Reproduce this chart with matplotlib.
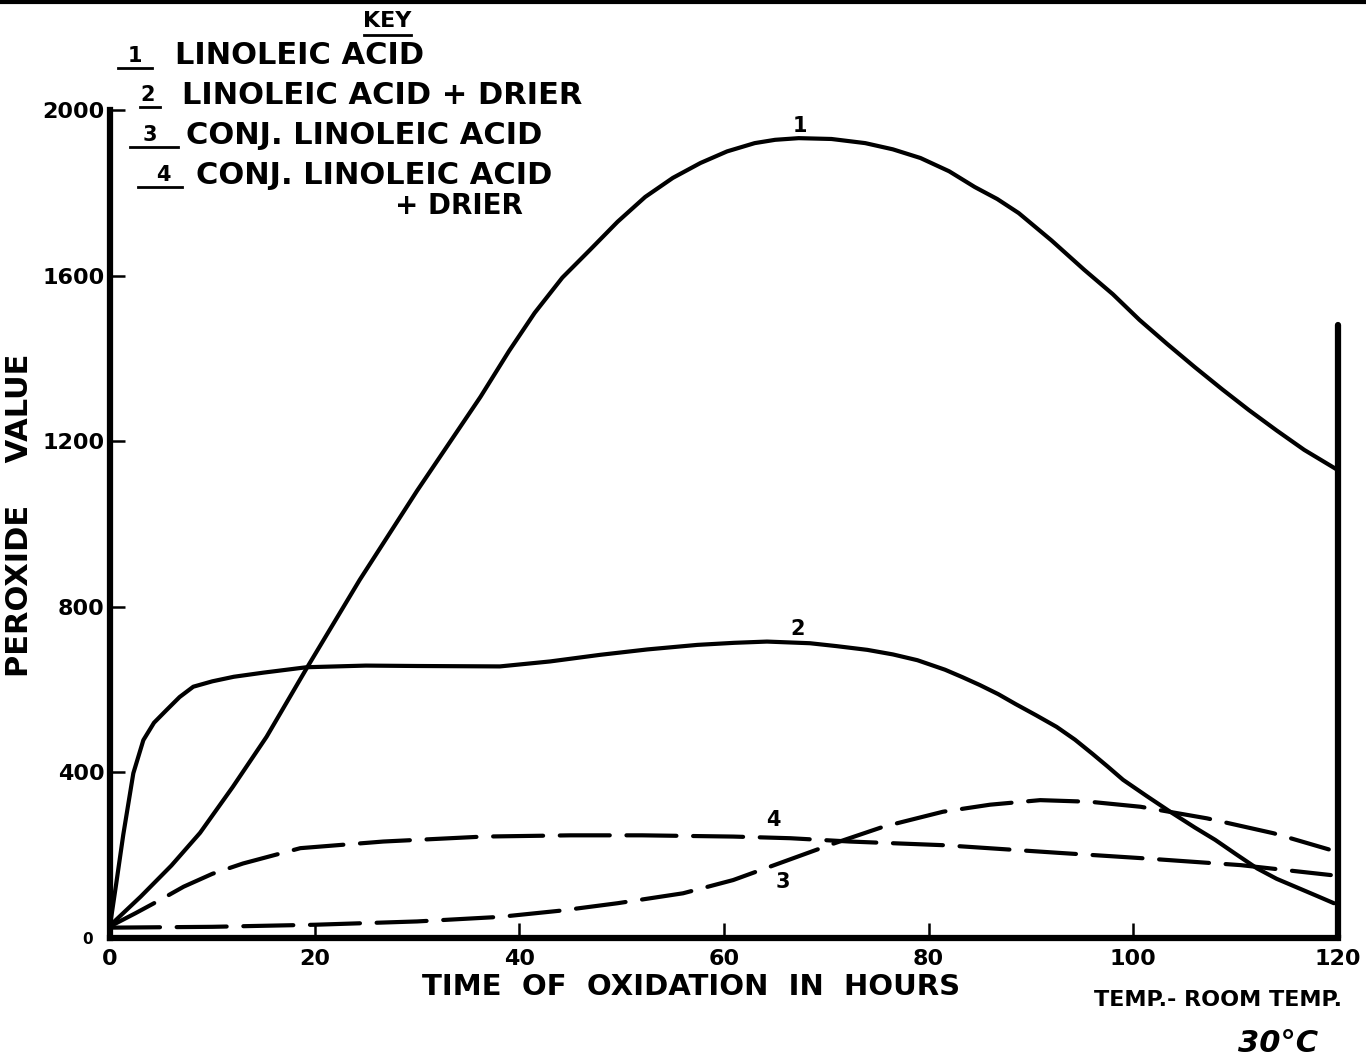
import matplotlib
matplotlib.use("Agg")
import matplotlib.pyplot as plt
from matplotlib.lines import Line2D

# ---------------- data ----------------
hours_1 = [0, 3, 6, 8.8, 12, 15.3, 19.3, 24.4, 30, 36.2, 39, 41.5, 44.2, 46.9,
           49.6, 52.3, 55, 57.7, 60.3, 63, 65, 67.3, 70.5, 73.8, 76.5, 79.2,
           82, 84.5, 86.7, 88.8, 92, 95.2, 98, 100.6, 103.3, 106, 108.7, 111.3,
           114, 116.7, 120]
pv_1 = [30, 100, 175, 254, 365, 486, 655, 865, 1080, 1307, 1418, 1510, 1595, 1662,
        1730, 1790, 1836, 1872, 1900, 1920, 1928, 1932, 1930, 1920, 1905, 1884,
        1852, 1814, 1785, 1751, 1685, 1614, 1555, 1493, 1435, 1379, 1325, 1275,
        1226, 1179, 1130]

hours_2 = [0, 0.6, 1.3, 2.28, 3.26, 4.3, 5.54, 6.8, 8.14, 10, 12.1, 15, 19.2, 25,
           30, 38.1, 43, 47.9, 52.5, 57.4, 61, 64.2, 68.4, 71, 74, 76.5, 78.9,
           81.6, 83.3, 85, 86.8, 88.5, 90.5, 92.5, 94.3, 96, 97.5, 99, 101.3,
           103.6, 106, 108, 110, 112.1, 114, 116, 118, 119.6]
pv_2 = [30, 130, 250, 398, 478, 520, 551, 582, 607, 620, 631, 641, 654, 658,
        657, 656, 668, 684, 697, 708, 713, 716, 712, 705, 696, 685, 671,
        648, 630, 611, 589, 565, 538, 510, 479, 445, 414, 382, 343,
        305, 267, 237, 203, 168, 143, 122, 101, 84]

hours_3 = [0, 10, 20, 30, 38.1, 44, 49.6, 56, 60.9, 65.8, 70.7, 75.6, 81.4, 86,
           90.9, 95.8, 100.7, 107.2, 113.7, 119.1]
pv_3 = [25, 27, 32, 40, 51, 66, 84, 108, 140, 184, 228, 269, 305, 322,
        333, 329, 317, 289, 253, 214]

hours_4 = [0, 2.5, 4.9, 7.2, 10, 13, 18.6, 26.7, 36.5, 45, 52, 60.9, 66.5, 72.3,
           81.6, 92.5, 100.7, 110.5, 119.3]
pv_4 = [28, 60, 92, 124, 155, 180, 217, 233, 245, 248, 248, 245, 241, 233,
        224, 206, 193, 176, 152]

x_ticks = [0, 20, 40, 60, 80, 100, 120]
x_tick_labels = ["0", "20", "40", "60", "80", "100", "120"]
y_ticks = [400, 800, 1200, 1600, 2000]
y_tick_labels = ["400", "800", "1200", "1600", "2000"]
right_bar_top = 1480

key_title = "KEY"
key_numbers = ["1", "2", "3", "4"]
key_texts = ["LINOLEIC ACID", "LINOLEIC ACID + DRIER", "CONJ. LINOLEIC ACID",
             "CONJ. LINOLEIC ACID"]
key_extra = "+ DRIER"
curve_labels = ["1", "2", "3", "4"]
curve_label_pos = [(67.4, 1938), (67.2, 722), (65.7, 135), (64.8, 262)]

xlabel = "TIME  OF  OXIDATION  IN  HOURS"
ylabel = "PEROXIDE    VALUE"
temp_text = "TEMP.- ROOM TEMP."
temp_value = "30°C"

# ---------------- figure ----------------
W, H = 1366, 1055
fig = plt.figure(figsize=(W / 100, H / 100), dpi=100)
fig.patch.set_facecolor("white")
FONT = "DejaVu Sans"


def fx(px):
    return px / W


def fy(py):
    return 1 - py / H


ax = fig.add_axes([fx(110), fy(938), fx(1338) - fx(110), fy(110) - fy(938)])
ax.set_xlim(0, 120)
ax.set_ylim(0, 2000)

lw = 3.0
ax.plot(hours_1, pv_1, color="black", lw=lw, solid_joinstyle="round",
        solid_capstyle="round", clip_on=False)
ax.plot(hours_2, pv_2, color="black", lw=lw, solid_joinstyle="round",
        solid_capstyle="round", clip_on=False)
ax.plot(hours_3, pv_3, color="black", lw=lw, dashes=(12, 4),
        dash_capstyle="round", clip_on=False)
ax.plot(hours_4, pv_4, color="black", lw=lw, dashes=(12, 4),
        dash_capstyle="round", clip_on=False)

# right-hand bar at 120 h
ax.plot([120, 120], [0, right_bar_top], color="black", lw=4.5,
        solid_capstyle="round", clip_on=False)

for s in ["top", "right"]:
    ax.spines[s].set_visible(False)
for s in ["left", "bottom"]:
    ax.spines[s].set_linewidth(4.5)
    ax.spines[s].set_capstyle("projecting")

ax.set_xticks(x_ticks)
ax.set_xticklabels(x_tick_labels)
ax.set_yticks(y_ticks)
ax.set_yticklabels(y_tick_labels)
ax.tick_params(axis="both", direction="in", length=11, width=1.8, color="black")
ax.tick_params(axis="x", pad=8, labelsize=16)
ax.tick_params(axis="y", pad=4, labelsize=16)
for t in ax.get_xticklabels() + ax.get_yticklabels():
    t.set_fontweight("bold")
    t.set_family(FONT)

# small zero on y axis
fig.text(fx(88), fy(940), "0", fontsize=11, fontweight="bold", family=FONT,
         ha="center", va="center")

# curve labels
for lab, (xx, yy) in zip(curve_labels, curve_label_pos):
    ax.text(xx, yy, lab, fontsize=15, fontweight="bold", family=FONT,
            ha="center", va="bottom" if lab in ("1", "2", "4") else "center")

# axis labels
fig.text(fx(691), fy(987), xlabel, fontsize=21, fontweight="bold", family=FONT,
         ha="center", va="center")
fig.text(fx(20), fy(515), ylabel, fontsize=22, fontweight="bold", family=FONT,
         ha="center", va="center", rotation=90)

# temperature note
fig.text(fx(1218), fy(1000), temp_text, fontsize=16, fontweight="bold",
         family=FONT, ha="center", va="center")
fig.text(fx(1278), fy(1043), temp_value, fontsize=22, fontweight="bold",
         style="italic", family=FONT, ha="center", va="center")

# key
fig.text(fx(387), fy(21), key_title, fontsize=16, fontweight="bold", family=FONT,
         ha="center", va="center")
fig.add_artist(Line2D([fx(364), fx(411)], [fy(35), fy(35)], color="black", lw=2))

row_y = [56, 95, 135, 175]
num_x = [135, 148, 150, 163]
num_ul = [(118, 152), (140, 160), (130, 178), (138, 182)]
text_x = [175, 182, 186, 196]
for i in range(4):
    fig.text(fx(num_x[i]), fy(row_y[i]), key_numbers[i], fontsize=15,
             fontweight="bold", family=FONT, ha="center", va="center")
    fig.add_artist(Line2D([fx(num_ul[i][0]), fx(num_ul[i][1])],
                          [fy(row_y[i] + 12), fy(row_y[i] + 12)],
                          color="black", lw=2))
    fig.text(fx(text_x[i]), fy(row_y[i]), key_texts[i], fontsize=22,
             fontweight="bold", family=FONT, ha="left", va="center")
fig.text(fx(395), fy(206), key_extra, fontsize=20, fontweight="bold",
         family=FONT, ha="left", va="center")

# scan edge line at very top
fig.add_artist(Line2D([0, 1], [fy(2), fy(2)], color="black", lw=3))

fig.savefig("out.png", dpi=100, facecolor="white")
